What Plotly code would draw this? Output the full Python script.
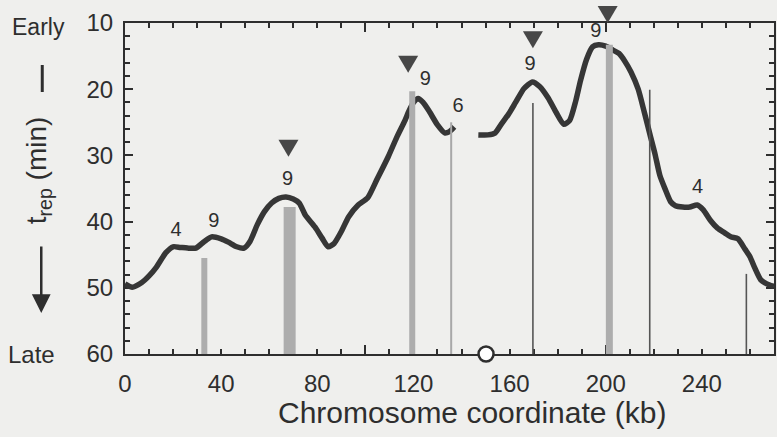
import plotly.graph_objects as go

# ---------------- data ----------------
# replication-time profile (kb, t_rep in min); None marks the gap
curve_kb = [0, 3, 7, 10, 13, 17, 20, 23, 26, 29.5, 33, 36, 40, 43, 46.5, 49.5, 52, 55, 58, 61, 64, 67,
            70, 72.5, 75, 79, 82, 84.5, 87, 90, 93, 97, 101, 105, 109.5, 113, 116.5, 118, 120, 122, 124,
            126.5, 130, 133, 135, 137,
            None,
            147, 151, 154, 156.5, 159.5, 162.5, 166, 169.5, 172.5, 176, 179.5, 182.5, 185, 187.5, 189.5,
            192, 194.5, 197, 200, 203, 205.5, 208, 210.5, 213.5, 216, 218.5, 220.5, 222.5, 224.5, 227,
            229, 232, 235, 238, 240.5, 243.5, 246.5, 249.5, 252, 255, 258, 260, 262, 264.5, 267, 270]
curve_t = [49.4, 49.9, 49.2, 48.2, 46.9, 44.7, 43.8, 43.9, 44.0, 44.0, 43.0, 42.3, 42.6, 43.1, 43.8, 44.0,
           43.0, 40.5, 38.5, 37.2, 36.5, 36.3, 36.6, 37.2, 39.0, 40.8, 42.5, 43.8, 43.3, 41.5, 39.3, 37.5,
           36.4, 33.5, 30.2, 27.3, 24.7, 23.4, 22.0, 21.4, 22.0, 23.3, 25.4, 26.6, 26.4, 25.7,
           None,
           26.9, 26.9, 26.6, 25.3, 23.8, 22.0, 19.9, 18.9, 19.6, 21.3, 23.6, 25.3, 24.7, 21.8, 18.7,
           15.5, 13.6, 13.3, 13.5, 14.1, 14.6, 15.8, 17.4, 20.0, 23.4, 27.0, 29.8, 33.0, 34.9, 37.0,
           37.6, 37.8, 37.8, 37.5, 38.2, 39.8, 41.0, 41.7, 42.3, 42.6, 44.2, 45.3, 47.0, 48.8, 49.4, 49.8]

# origin positions (kb) and the t_rep reached by each vertical bar
bar_kb = [33, 68.5, 119.5, 135.7, 169.7, 201.5, 218.3, 258.5]
bar_top = [45.5, 37.8, 20.3, 25.0, 22.1, 13.3, 20.1, 47.9]

# efficient origins marked by triangles
tri_kb = [68, 117.8, 169.7, 200.8]
tri_t = [28.7, 16.0, 12.3, 8.5]

# numeric labels above the profile
lab_text = ["4", "9", "9", "9", "6", "9", "9", "4"]
lab_kb = [21.2, 36.9, 67.6, 124.9, 138.6, 168.5, 195.9, 238.2]
lab_t = [41.4, 40.0, 33.7, 18.6, 22.7, 16.3, 11.3, 34.9]

# centromere (open circle)
cen_kb = [150.2]
cen_t = [60]

x_range = [0, 270]
y_range = [60, 10]
x_ticks = [0, 40, 80, 120, 160, 200, 240]
y_ticks = [10, 20, 30, 40, 50, 60]

# ---------------- styles ----------------
bar_px = [6, 12, 6, 2, 1.6, 7, 1.6, 1.6]
bar_col = ["#adadad", "#adadad", "#adadad", "#a8a8a8", "#555555", "#adadad", "#555555", "#555555"]
INK = "#2e2e2e"
BG = "#efefed"
FONT = "Liberation Sans, Arial, Helvetica, sans-serif"
TRI_PATH = "M-10,7 L10,7 L0,-10 Z"   # downward triangle, pixel units around its anchor

fig = go.Figure()

fig.add_trace(go.Scatter(x=curve_kb, y=curve_t, mode="lines", connectgaps=False,
                         line=dict(color="#363636", width=5.5, shape="spline", smoothing=0.6),
                         hoverinfo="skip", showlegend=False))

for k, top, w, c in zip(bar_kb, bar_top, bar_px, bar_col):
    fig.add_trace(go.Scatter(x=[k, k], y=[60, top], mode="lines",
                             line=dict(color=c, width=w), showlegend=False, hoverinfo="skip"))

fig.add_trace(go.Scatter(x=lab_kb, y=lab_t, mode="text", text=lab_text, cliponaxis=False,
                         textfont=dict(family=FONT, size=20, color=INK), showlegend=False))

fig.add_trace(go.Scatter(x=cen_kb, y=cen_t, mode="markers", cliponaxis=False, xaxis="x2",
                         marker=dict(symbol="circle", size=15, color="white",
                                     line=dict(color=INK, width=2.5)), showlegend=False))

# triangles: anchored on data x, and on the y scale expressed as a plot fraction so the
# one sitting above the top axis is not hidden
for k, t in zip(tri_kb, tri_t):
    frac = (y_range[0] - t) / (y_range[0] - y_range[1])
    fig.add_shape(type="path", xref="x", yref="paper", xsizemode="pixel", ysizemode="pixel",
                  xanchor=k, yanchor=frac, path=TRI_PATH, fillcolor="#474747",
                  line=dict(width=0), layer="above")

axis_common = dict(showline=True, linecolor=INK, linewidth=2, mirror="ticks", ticks="inside",
                   tickcolor=INK, tickwidth=2, showgrid=False, zeroline=False, layer="below traces")

fig.update_layout(
    width=777, height=437,
    margin=dict(l=125, r=1, t=23, b=83),
    paper_bgcolor=BG, plot_bgcolor=BG,
    font=dict(family=FONT, color=INK),
    xaxis=dict(range=x_range, tickmode="array", tickvals=[0, 100, 200], ticklen=9,
               showticklabels=False,
               minor=dict(tickmode="linear", tick0=0, dtick=10, ticks="inside", ticklen=5,
                          tickwidth=2, tickcolor=INK, showgrid=False),
               **axis_common),
    xaxis2=dict(range=x_range, overlaying="x", anchor="y", side="bottom", tickmode="array",
                tickvals=x_ticks, ticks="", showline=False, showgrid=False, zeroline=False,
                tickfont=dict(size=24, color=INK, family=FONT), ticklabelstandoff=13),
    yaxis=dict(range=y_range, tickmode="array", tickvals=y_ticks, ticklen=8,
               tickfont=dict(size=24, color=INK, family=FONT), ticklabelstandoff=5,
               minor=dict(tickmode="linear", tick0=10, dtick=2, ticks="inside", ticklen=5,
                          tickwidth=2, tickcolor=INK, showgrid=False),
               **axis_common),
)

# axis texts
fig.add_annotation(text="Chromosome coordinate (kb)", xref="paper", yref="paper",
                   x=(474 - 125) / 651, y=(354 - 412) / 331, xanchor="center", yanchor="middle",
                   showarrow=False, font=dict(size=30, color=INK, family=FONT))
fig.add_annotation(text="Early", xref="paper", yref="paper", x=(38 - 125) / 651, y=(354 - 27) / 331,
                   xanchor="center", yanchor="middle", showarrow=False,
                   font=dict(size=23, color=INK, family=FONT))
fig.add_annotation(text="Late", xref="paper", yref="paper", x=(31 - 125) / 651, y=(354 - 354) / 331,
                   xanchor="center", yanchor="middle", showarrow=False,
                   font=dict(size=24, color=INK, family=FONT))
fig.add_annotation(text="t<sub>rep</sub> (min)", xref="paper", yref="paper",
                   x=(38 - 125) / 651, y=(354 - 170) / 331, textangle=-90,
                   xanchor="center", yanchor="middle", showarrow=False,
                   font=dict(size=28, color=INK, family=FONT))
# arrow below the title and its tail above
fig.add_annotation(text="", xref="paper", yref="paper", x=(41 - 125) / 651, y=(354 - 313) / 331,
                   ax=0, ay=-68, axref="pixel", ayref="pixel", showarrow=True,
                   arrowhead=2, arrowsize=1.5, arrowwidth=2.5, arrowcolor=INK)
fig.add_shape(type="line", xref="paper", yref="paper",
              x0=(42 - 125) / 651, x1=(42 - 125) / 651, y0=(354 - 65) / 331, y1=(354 - 92) / 331,
              line=dict(color=INK, width=3))

fig.write_html("out.html", config={"displayModeBar": False},
               post_script="document.body.style.margin='0';"
                           "document.body.style.background='" + BG + "';")
